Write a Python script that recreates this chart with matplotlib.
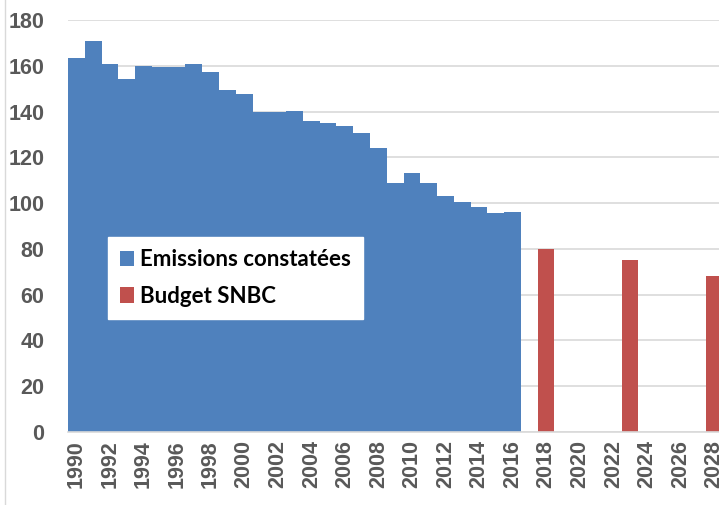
import matplotlib.pyplot as plt
from matplotlib.lines import Line2D

years = list(range(1990, 2017))
emissions = [163.3, 171.0, 160.6, 154.1, 160.0, 159.5, 159.5, 160.6, 157.4, 149.5,
             147.5, 139.8, 139.8, 140.4, 135.7, 135.1, 133.8, 130.6, 124.1, 108.6,
             113.0, 108.6, 103.2, 100.6, 98.2, 95.7, 96.1]

budget_years = [2018, 2023, 2028]
budget = [79.8, 75.1, 68.0]

tick_years = list(range(1990, 2029, 2))
y_ticks = list(range(0, 181, 20))

blue = "#4F81BD"
red = "#C0504D"
grey = "#595959"

fig = plt.figure(figsize=(7.19, 5.05), dpi=100)
ax = fig.add_axes([68 / 719, 73 / 505, 651 / 719, 412 / 505])

ax.bar(years, emissions, width=1.0, color=blue, label="Emissions constatées")
ax.bar(budget_years, budget, width=0.95, color=red, label="Budget SNBC")

ax.set_xlim(1989.5, 2028.3)
ax.set_ylim(0, 180)
ax.set_yticks(y_ticks)
ax.set_xticks(tick_years)
ax.set_xticklabels([str(y) for y in tick_years], rotation=90)

ax.set_axisbelow(True)
ax.grid(axis="y", color="#d9d9d9", linewidth=1.2)
for side in ["top", "right", "left"]:
    ax.spines[side].set_visible(False)
ax.spines["bottom"].set_color("#d9d9d9")
ax.spines["bottom"].set_linewidth(1.2)

ax.tick_params(axis="y", length=0, pad=17, labelsize=15.5, labelcolor=grey)
ax.tick_params(axis="x", length=0, pad=6, labelsize=15.5, labelcolor=grey)
for lab in ax.get_yticklabels() + ax.get_xticklabels():
    lab.set_fontweight("bold")
    lab.set_family("Liberation Sans")

leg = ax.legend(loc="upper left", bbox_to_anchor=(0.061, 0.473), borderaxespad=0,
                frameon=True, fancybox=False, edgecolor="white", framealpha=1,
                prop={"family": "Lato", "weight": "bold", "size": 16},
                handlelength=0.65, handleheight=0.7, handletextpad=0.25,
                labelspacing=0.7, borderpad=0.55)

fig.add_artist(Line2D([5 / 719, 5 / 719], [0, 1], color="#d9d9d9", linewidth=1))

fig.savefig("out.png", dpi=100)
